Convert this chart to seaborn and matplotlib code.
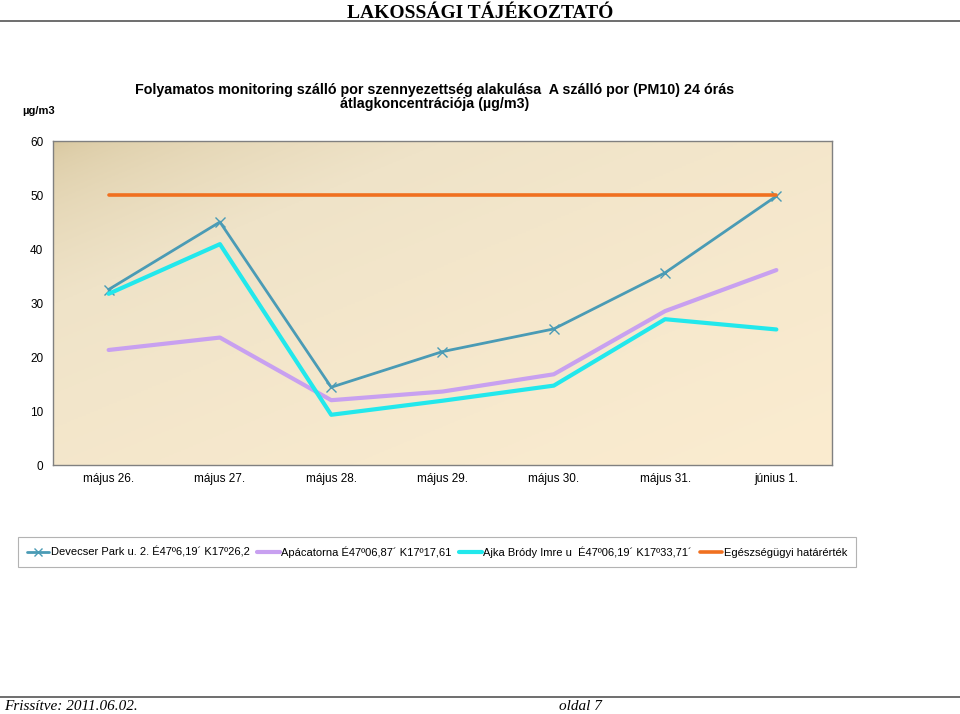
import numpy as np
import pandas as pd
import matplotlib
matplotlib.use("Agg")
import matplotlib.pyplot as plt
import seaborn as sns
from matplotlib.colors import LinearSegmentedColormap

days = ["május 26.", "május 27.", "május 28.", "május 29.", "május 30.", "május 31.", "június 1."]
devecser = [32.5, 45.0, 14.4, 21.0, 25.2, 35.6, 49.8]
apacatorna = [21.3, 23.6, 12.0, 13.6, 16.8, 28.5, 36.1]
ajka = [31.7, 40.9, 9.3, 11.9, 14.7, 27.0, 25.1]
limit = [50, 50, 50, 50, 50, 50, 50]

names = ["Devecser Park u. 2. É47º6,19´ K17º26,2",
         "Apácatorna É47º06,87´ K17º17,61",
         "Ajka Bródy Imre u  É47º06,19´ K17º33,71´",
         "Egészségügyi határérték"]
colors = ["#4a9bb5", "#c8a0f0", "#22e8ec", "#f07020"]
widths = [2.0, 3.0, 3.0, 2.6]
markers = ["x", None, None, None]

sns.set_theme(style="white")
plt.rcParams['font.family'] = ['Liberation Sans', 'DejaVu Sans']
plt.rcParams['text.color'] = 'black'

fig = plt.figure(figsize=(9.6, 7.14), dpi=100)
ax = fig.add_axes([53/960, 1-465/714, (832-53)/960, (465-141)/714])

# background gradient (dark top-left to light bottom-right)
n = 200
xx, yy = np.meshgrid(np.linspace(0, 1, n), np.linspace(0, 1, n))
t = np.clip((xx + yy) / 2.0, 0, 1)
t = np.sqrt(t)
cmap = LinearSegmentedColormap.from_list("bg", ["#d6c59c", "#efe3c8", "#fbecd0"])
ax.imshow(cmap(t), extent=[0, 1, 0, 1], transform=ax.transAxes, aspect="auto", zorder=0, origin="upper")

rows = []
for name, vals in zip(names, [devecser, apacatorna, ajka, limit]):
    for i, v in enumerate(vals):
        rows.append({"x": i, "y": v, "series": name})
df = pd.DataFrame(rows)

for name, c, w, m in zip(names, colors, widths, markers):
    sub = df[df.series == name]
    sns.lineplot(data=sub, x="x", y="y", ax=ax, color=c, linewidth=w,
                 marker=m, markersize=7, markeredgewidth=1.0, markeredgecolor=c,
                 label=name, zorder=3, legend=False)

ax.set_xlim(-0.5, 6.5)
ax.set_ylim(0, 60)
ax.set_yticks([0, 10, 20, 30, 40, 50, 60])
ax.set_xticks(range(7))
ax.set_xticklabels(days)
ax.set_xlabel("")
ax.set_ylabel("")
ax.tick_params(axis="both", labelsize=8.5, colors="black", length=0, pad=6)
ax.tick_params(axis="y", pad=7)
for s in ax.spines.values():
    s.set_color("#808080")
    s.set_linewidth(1.0)
    s.set_visible(True)

# title texts
fig.text(435/960, 1-90/714, "Folyamatos monitoring szálló por szennyezettség alakulása  A szálló por (PM10) 24 órás",
         ha="center", va="center", fontsize=10.3, fontweight="bold")
fig.text(435/960, 1-104/714, "átlagkoncentrációja (µg/m3)", ha="center", va="center", fontsize=10.3, fontweight="bold")
fig.text(22/960, 1-111/714, "µg/m3", ha="left", va="center", fontsize=8, fontweight="bold")

# header
fig.text(480/960, 1-13/714, "LAKOSSÁGI TÁJÉKOZTATÓ", ha="center", va="center",
         fontsize=14, fontweight="bold", family=["Liberation Serif", "DejaVu Serif"])
fig.add_artist(plt.Line2D([0, 1], [1-21/714, 1-21/714], transform=fig.transFigure, color="#555555", linewidth=1.2))

# footer
fig.add_artist(plt.Line2D([0, 1], [1-697/714, 1-697/714], transform=fig.transFigure, color="#555555", linewidth=1.2))
fig.text(4/960, 1-706/714, "Frissítve: 2011.06.02.", ha="left", va="center", fontsize=11,
         style="italic", family=["Liberation Serif", "DejaVu Serif"])
fig.text(580/960, 1-706/714, "oldal 7", ha="center", va="center", fontsize=11,
         style="italic", family=["Liberation Serif", "DejaVu Serif"])

# legend
handles = []
for name, c, w, m in zip(names, colors, widths, markers):
    handles.append(plt.Line2D([], [], color=c, linewidth=w, marker=m, markersize=6,
                              markeredgecolor=c))
leg = fig.legend(handles, names, loc="center", bbox_to_anchor=(437/960, 1-552/714),
                 ncol=4, fontsize=8, frameon=True, fancybox=False, handlelength=2.0,
                 handletextpad=0.15, columnspacing=0.7, borderpad=0.8)
leg.get_frame().set_edgecolor("#a0a0a0")
leg.get_frame().set_linewidth(0.8)

fig.savefig("out.png", dpi=100)
